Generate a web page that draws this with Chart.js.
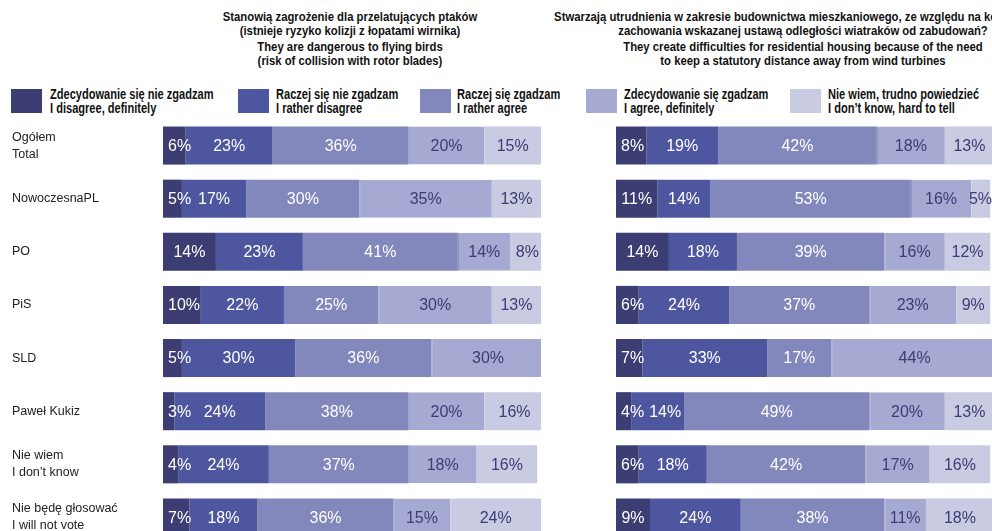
<!DOCTYPE html>
<html>
<head>
<meta charset="utf-8">
<script src="https://cdn.jsdelivr.net/npm/chart.js@4/dist/chart.umd.min.js"></script>
<style>
  body { margin: 0; width: 992px; height: 531px; overflow: hidden; background: #fff; position: relative; }
  .title {
    position: absolute; text-align: center; white-space: nowrap; color: #111;
    font: bold 13px "Liberation Sans", Arial, sans-serif;
    line-height: 13.5px; transform: scaleX(0.87); transform-origin: center top;
  }
  .title p { margin: 0 0 3px 0; }
  .leg-box { position: absolute; top: 89px; width: 31px; height: 24px; }
  .leg-text {
    position: absolute; top: 87px; white-space: nowrap; color: #111;
    font: bold 14px "Liberation Sans", Arial, sans-serif;
    line-height: 14px; transform: scaleX(0.79); transform-origin: left top;
  }
  .chart-wrap { position: absolute; top: 119px; height: 425px; }
</style>
</head>
<body>

<div class="title" style="left:100px;top:10px;width:500px;">
  <p>Stanowią zagrożenie dla przelatujących ptaków<br>(istnieje ryzyko kolizji z łopatami wirnika)</p>
  <p>They are dangerous to flying birds<br>(risk of collision with rotor blades)</p>
</div>
<div class="title" style="left:503px;top:10px;width:600px;">
  <p>Stwarzają utrudnienia w zakresie budownictwa mieszkaniowego, ze względu na konieczność<br>zachowania wskazanej ustawą odległości wiatraków od zabudowań?</p>
  <p>They create difficulties for residential housing because of the need<br>to keep a statutory distance away from wind turbines</p>
</div>

<div id="legend"></div>

<div class="chart-wrap" style="left:12px;width:529px;"><canvas id="leftChart"></canvas></div>
<div class="chart-wrap" style="left:616px;width:378px;"><canvas id="rightChart"></canvas></div>

<script>
// ------------------- Data ------------------- //

const categories = [
  ["Ogółem", "Total"],
  "NowoczesnaPL",
  "PO",
  "PiS",
  "SLD",
  "Paweł Kukiz",
  ["Nie wiem", "I don’t know"],
  ["Nie będę głosować", "I will not vote"],
];

const answerLabels = [
  ["Zdecydowanie się nie zgadzam", "I disagree, definitely"],
  ["Raczej się nie zgadzam", "I rather disagree"],
  ["Raczej się zgadzam", "I rather agree"],
  ["Zdecydowanie się zgadzam", "I agree, definitely"],
  ["Nie wiem, trudno powiedzieć", "I don’t know, hard to tell"],
];

// Birds question (left chart)
const birdsDisagreeDef = [6, 5, 14, 10, 5, 3, 4, 7];
const birdsDisagree    = [23, 17, 23, 22, 30, 24, 24, 18];
const birdsAgree       = [36, 30, 41, 25, 36, 38, 37, 36];
const birdsAgreeDef    = [20, 35, 14, 30, 30, 20, 18, 15];
const birdsDontKnow    = [15, 13, 8, 13, 0, 16, 16, 24];

// Housing question (right chart)
const housingDisagreeDef = [8, 11, 14, 6, 7, 4, 6, 9];
const housingDisagree    = [19, 14, 18, 24, 33, 14, 18, 24];
const housingAgree       = [42, 53, 39, 37, 17, 49, 42, 38];
const housingAgreeDef    = [18, 16, 16, 23, 44, 20, 17, 11];
const housingDontKnow    = [13, 5, 12, 9, 0, 13, 16, 18];

const colors = ["#3b3d73", "#4e56a0", "#8388bc", "#a6a9d1", "#c9cbe2"];
const labelColors = ["#ffffff", "#ffffff", "#ffffff", "#3b3d73", "#3b3d73"];

// ------------------- Legend ------------------- //

function renderLegend() {
  const boxX = [11, 238, 420, 586, 790];
  const textX = [50, 276, 457, 624, 828];
  const holder = document.getElementById("legend");
  answerLabels.forEach((lines, i) => {
    const box = document.createElement("div");
    box.className = "leg-box";
    box.style.left = boxX[i] + "px";
    box.style.background = colors[i];
    const txt = document.createElement("div");
    txt.className = "leg-text";
    txt.style.left = textX[i] + "px";
    txt.innerHTML = lines.join("<br>");
    holder.appendChild(box);
    holder.appendChild(txt);
  });
}

// ------------------- Value labels plugin ------------------- //

const valueLabels = {
  id: "valueLabels",
  afterDatasetsDraw(chart) {
    const ctx = chart.ctx;
    ctx.save();
    ctx.font = '16px "Liberation Sans", Arial, sans-serif';
    ctx.textBaseline = "middle";
    ctx.textAlign = "left";
    const rowEnds = {};
    chart.data.datasets.forEach((ds, di) => {
      const meta = chart.getDatasetMeta(di);
      meta.data.forEach((bar, idx) => {
        const v = ds.data[idx];
        if (!v) return;
        const txt = v + "%";
        const w = ctx.measureText(txt).width;
        const start = Math.min(bar.x, bar.base);
        const end = Math.max(bar.x, bar.base);
        let left = (start + end) / 2 - w / 2;
        if (left < start + 5) left = start + 5;
        if (rowEnds[idx] !== undefined && left < rowEnds[idx] + 5) left = rowEnds[idx] + 5;
        if (left + w > chart.chartArea.right - 2) left = chart.chartArea.right - 2 - w;
        rowEnds[idx] = left + w;
        ctx.fillStyle = labelColors[di];
        ctx.fillText(txt, left, bar.y + 1);
      });
    });
    ctx.restore();
  },
};

// ------------------- Charts ------------------- //

function makeDatasets(series) {
  return series.map((values, i) => ({
    label: answerLabels[i][0],
    data: values,
    backgroundColor: colors[i],
    borderWidth: i === 3 ? { left: 1 } : 0,
    borderColor: "#7379b3",
    borderSkipped: false,
    barPercentage: 0.717,
    categoryPercentage: 1,
  }));
}

function makeChart(canvasId, series, showCategories) {
  return new Chart(document.getElementById(canvasId), {
    type: "bar",
    data: { labels: categories, datasets: makeDatasets(series) },
    options: {
      indexAxis: "y",
      responsive: true,
      maintainAspectRatio: false,
      animation: false,
      events: [],
      layout: { padding: 0 },
      plugins: { legend: { display: false }, tooltip: { enabled: false } },
      scales: {
        x: { stacked: true, min: 0, max: 100, display: false },
        y: {
          stacked: true,
          display: showCategories,
          grid: { display: false, drawTicks: false },
          border: { display: false },
          ticks: {
            crossAlign: "far",
            padding: 0,
            color: "#222",
            font: { family: '"Liberation Sans", Arial, sans-serif', size: 12.5, lineHeight: 1.36 },
          },
          afterFit(scale) {
            // keep the plot area flush with the canvas top and bottom
            scale.paddingTop = 0;
            scale.paddingBottom = 0;
            if (showCategories) scale.width = 151;
          },
        },
      },
    },
    plugins: [valueLabels],
  });
}

// ------------------- Initialize ------------------- //

renderLegend();
makeChart("leftChart",
  [birdsDisagreeDef, birdsDisagree, birdsAgree, birdsAgreeDef, birdsDontKnow], true);
makeChart("rightChart",
  [housingDisagreeDef, housingDisagree, housingAgree, housingAgreeDef, housingDontKnow], false);
</script>
</body>
</html>
